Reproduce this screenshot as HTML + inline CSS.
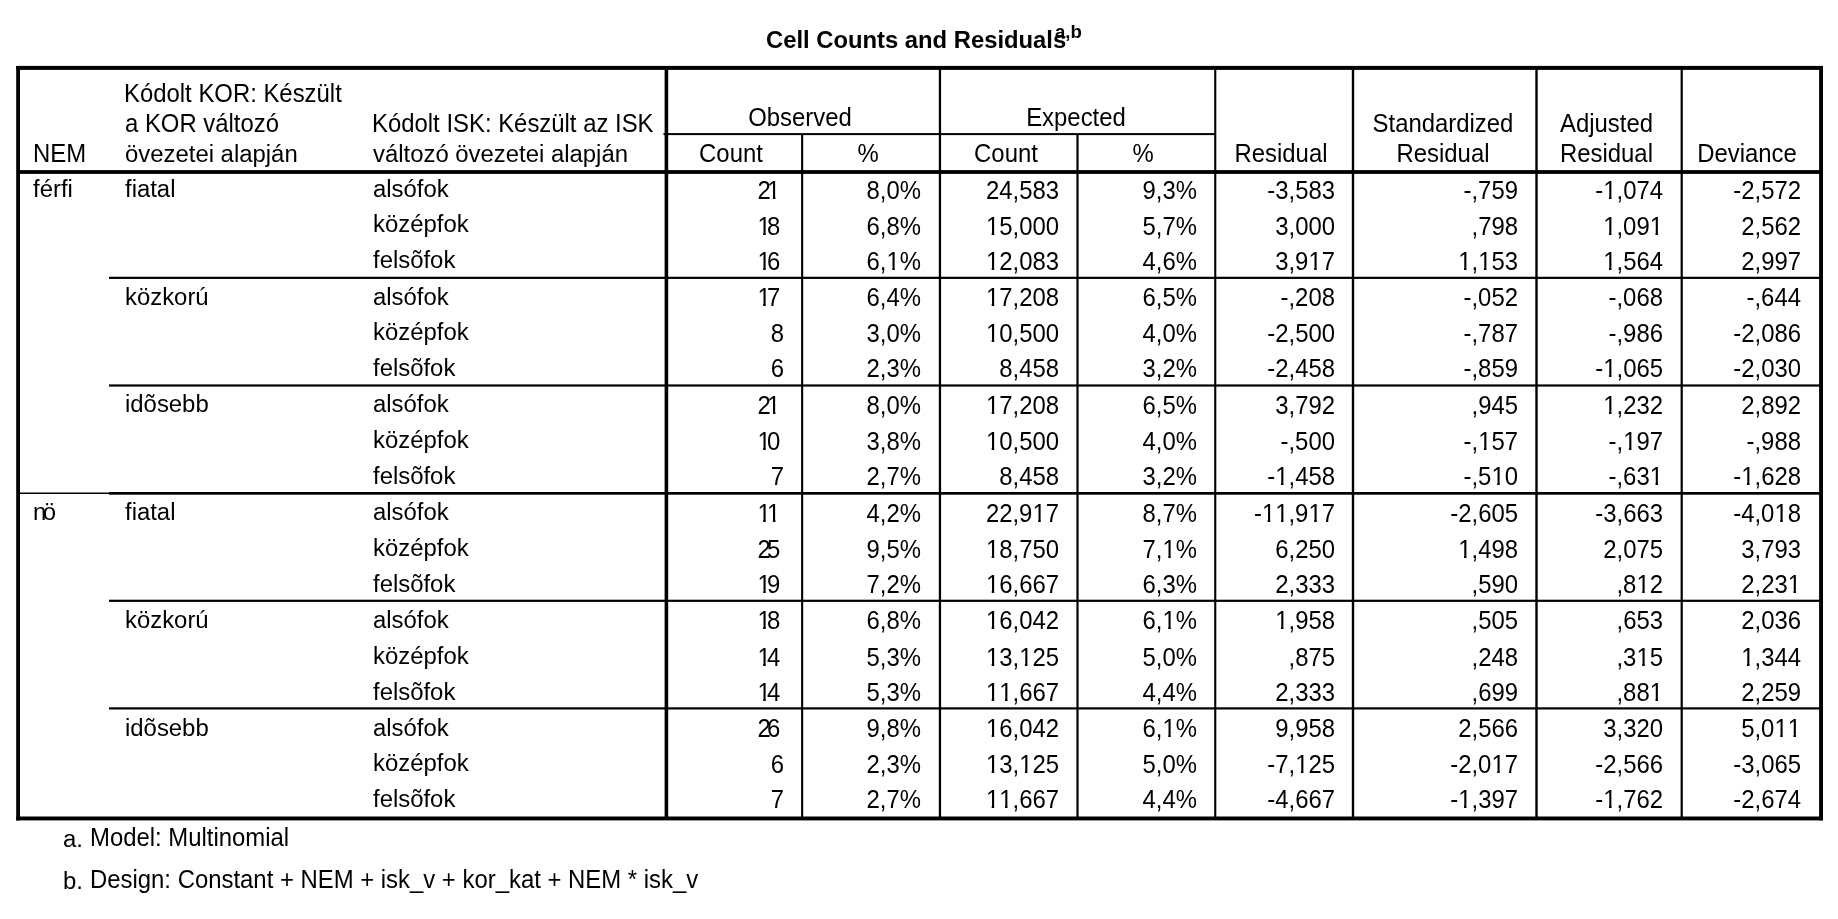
<!DOCTYPE html>
<html lang="hu"><head><meta charset="utf-8"><title>Cell Counts and Residuals</title>
<style>
html,body{margin:0;padding:0;background:#fff;}
body{width:1838px;height:919px;position:relative;overflow:hidden;font-family:"Liberation Sans",sans-serif;font-size:23.9px;color:#000;line-height:28.0px;}
.l{position:absolute;background:#000;}
.t,.r,.c{position:absolute;white-space:nowrap;transform:scaleY(1.005);will-change:transform;}
.r,.u{transform:scaleY(1.065);}
.m{transform:scaleY(1.055);}
.t{transform-origin:0 0;}
.r{text-align:right;width:200px;transform-origin:100% 0;}
.c{text-align:center;width:300px;transform-origin:50% 0;}
.q{margin-left:-3.6px;margin-right:3.6px;}
.o{display:inline-block;clip-path:polygon(0 0,100% 0,100% 19.5px,0.348em 19.5px,0.348em 100%,0.243em 100%,0.243em 19.5px,0 19.5px);}
#title{font-weight:bold;font-size:23.8px;}
#sup{font-weight:bold;font-size:18.6px;transform:scaleY(1.03);}
</style></head><body>

<svg width="1838" height="919" viewBox="0 0 1838 919" style="position:absolute;left:0;top:0" fill="#000">
<rect x="16.20" y="66.00" width="3.80" height="754.40"/>
<rect x="1819.10" y="66.00" width="3.90" height="754.40"/>
<rect x="664.60" y="68.00" width="3.60" height="750.00"/>
<rect x="801.10" y="134.00" width="2.10" height="684.00"/>
<rect x="938.80" y="68.00" width="2.30" height="750.00"/>
<rect x="1076.40" y="134.00" width="2.20" height="684.00"/>
<rect x="1214.20" y="68.00" width="2.10" height="750.00"/>
<rect x="1351.80" y="68.00" width="2.40" height="750.00"/>
<rect x="1535.30" y="68.00" width="2.40" height="750.00"/>
<rect x="1680.60" y="68.00" width="2.20" height="750.00"/>
<rect x="16.20" y="65.90" width="1806.80" height="4.00"/>
<rect x="16.20" y="816.50" width="1806.80" height="3.90"/>
<rect x="18.00" y="170.10" width="1803.00" height="3.80"/>
<rect x="663.50" y="133.10" width="552.50" height="2.00"/>
<rect x="109.00" y="276.75" width="1712.00" height="2.20"/>
<rect x="109.00" y="384.40" width="1712.00" height="2.20"/>
<rect x="18.00" y="492.50" width="92.00" height="1.50"/>
<rect x="109.00" y="492.00" width="1712.00" height="2.70"/>
<rect x="109.00" y="599.70" width="1712.00" height="2.20"/>
<rect x="109.00" y="707.30" width="1712.00" height="2.20"/>
</svg>
<div class="t" id="title" style="left:766px;top:25.84px;">Cell Counts and Residuals</div>
<div class="t" id="sup" style="left:1055.1px;top:17px;">a,b</div>
<div class="t u" style="left:33.0px;top:139px;">NEM</div>
<div class="t m" style="left:124.3px;top:79px;">Kódolt KOR: Készült</div>
<div class="t m" style="left:125.0px;top:109px;">a KOR változó</div>
<div class="t" style="left:125.0px;top:140px;">övezetei alapján</div>
<div class="t m" style="left:372.2px;top:109px;">Kódolt ISK: Készült az ISK</div>
<div class="t" style="left:372.6px;top:140px;">változó övezetei alapján</div>
<div class="c m" style="left:650.0px;top:103px;">Observed</div>
<div class="c m" style="left:925.5px;top:103px;">Expected</div>
<div class="c m" style="left:581.0px;top:139px;">Count</div>
<div class="c u" style="left:718.0px;top:139px;">%</div>
<div class="c m" style="left:856.0px;top:139px;">Count</div>
<div class="c u" style="left:993.0px;top:139px;">%</div>
<div class="c m" style="left:1131.0px;top:139px;">Residual</div>
<div class="c m" style="left:1293.0px;top:109px;">Standardized</div>
<div class="c m" style="left:1293.0px;top:139px;">Residual</div>
<div class="t m" style="left:1560.0px;top:109px;">Adjusted</div>
<div class="t m" style="left:1560.0px;top:139px;">Residual</div>
<div class="c m" style="left:1597.0px;top:139px;">Deviance</div>
<div class="t" style="left:32.8px;top:175px;">férfi</div>
<div class="t" style="left:125.2px;top:175px;">fiatal</div>
<div class="t" style="left:372.5px;top:175px;">alsófok</div>
<div class="r" style="left:584.1px;top:176px;">2<span class="q o">1</span></div>
<div class="r" style="left:721.0px;top:176px;">8,0%</div>
<div class="r" style="left:859.2px;top:176px;">24,583</div>
<div class="r" style="left:997.0px;top:176px;">9,3%</div>
<div class="r" style="left:1134.5px;top:176px;">-3,583</div>
<div class="r" style="left:1318.0px;top:176px;">-,759</div>
<div class="r" style="left:1463.0px;top:176px;">-<span class="o">1</span>,074</div>
<div class="r" style="left:1601.0px;top:176px;">-2,572</div>
<div class="t" style="left:372.5px;top:210px;">középfok</div>
<div class="r" style="left:584.1px;top:212px;"><span class="o">1</span><span class="q">8</span></div>
<div class="r" style="left:721.0px;top:212px;">6,8%</div>
<div class="r" style="left:859.2px;top:212px;"><span class="o">1</span>5,000</div>
<div class="r" style="left:997.0px;top:212px;">5,7%</div>
<div class="r" style="left:1134.5px;top:212px;">3,000</div>
<div class="r" style="left:1318.0px;top:212px;">,798</div>
<div class="r" style="left:1463.0px;top:212px;"><span class="o">1</span>,09<span class="o">1</span></div>
<div class="r" style="left:1601.0px;top:212px;">2,562</div>
<div class="t" style="left:372.5px;top:246px;">felsõfok</div>
<div class="r" style="left:584.1px;top:247px;"><span class="o">1</span><span class="q">6</span></div>
<div class="r" style="left:721.0px;top:247px;">6,<span class="o">1</span>%</div>
<div class="r" style="left:859.2px;top:247px;"><span class="o">1</span>2,083</div>
<div class="r" style="left:997.0px;top:247px;">4,6%</div>
<div class="r" style="left:1134.5px;top:247px;">3,9<span class="o">1</span>7</div>
<div class="r" style="left:1318.0px;top:247px;"><span class="o">1</span>,<span class="o">1</span>53</div>
<div class="r" style="left:1463.0px;top:247px;"><span class="o">1</span>,564</div>
<div class="r" style="left:1601.0px;top:247px;">2,997</div>
<div class="t" style="left:125.2px;top:283px;">közkorú</div>
<div class="t" style="left:372.5px;top:283px;">alsófok</div>
<div class="r" style="left:584.1px;top:283px;"><span class="o">1</span><span class="q">7</span></div>
<div class="r" style="left:721.0px;top:283px;">6,4%</div>
<div class="r" style="left:859.2px;top:283px;"><span class="o">1</span>7,208</div>
<div class="r" style="left:997.0px;top:283px;">6,5%</div>
<div class="r" style="left:1134.5px;top:283px;">-,208</div>
<div class="r" style="left:1318.0px;top:283px;">-,052</div>
<div class="r" style="left:1463.0px;top:283px;">-,068</div>
<div class="r" style="left:1601.0px;top:283px;">-,644</div>
<div class="t" style="left:372.5px;top:318px;">középfok</div>
<div class="r" style="left:584.1px;top:319px;">8</div>
<div class="r" style="left:721.0px;top:319px;">3,0%</div>
<div class="r" style="left:859.2px;top:319px;"><span class="o">1</span>0,500</div>
<div class="r" style="left:997.0px;top:319px;">4,0%</div>
<div class="r" style="left:1134.5px;top:319px;">-2,500</div>
<div class="r" style="left:1318.0px;top:319px;">-,787</div>
<div class="r" style="left:1463.0px;top:319px;">-,986</div>
<div class="r" style="left:1601.0px;top:319px;">-2,086</div>
<div class="t" style="left:372.5px;top:354px;">felsõfok</div>
<div class="r" style="left:584.1px;top:354px;">6</div>
<div class="r" style="left:721.0px;top:354px;">2,3%</div>
<div class="r" style="left:859.2px;top:354px;">8,458</div>
<div class="r" style="left:997.0px;top:354px;">3,2%</div>
<div class="r" style="left:1134.5px;top:354px;">-2,458</div>
<div class="r" style="left:1318.0px;top:354px;">-,859</div>
<div class="r" style="left:1463.0px;top:354px;">-<span class="o">1</span>,065</div>
<div class="r" style="left:1601.0px;top:354px;">-2,030</div>
<div class="t" style="left:125.2px;top:390px;">idõsebb</div>
<div class="t" style="left:372.5px;top:390px;">alsófok</div>
<div class="r" style="left:584.1px;top:391px;">2<span class="q o">1</span></div>
<div class="r" style="left:721.0px;top:391px;">8,0%</div>
<div class="r" style="left:859.2px;top:391px;"><span class="o">1</span>7,208</div>
<div class="r" style="left:997.0px;top:391px;">6,5%</div>
<div class="r" style="left:1134.5px;top:391px;">3,792</div>
<div class="r" style="left:1318.0px;top:391px;">,945</div>
<div class="r" style="left:1463.0px;top:391px;"><span class="o">1</span>,232</div>
<div class="r" style="left:1601.0px;top:391px;">2,892</div>
<div class="t" style="left:372.5px;top:426px;">középfok</div>
<div class="r" style="left:584.1px;top:427px;"><span class="o">1</span><span class="q">0</span></div>
<div class="r" style="left:721.0px;top:427px;">3,8%</div>
<div class="r" style="left:859.2px;top:427px;"><span class="o">1</span>0,500</div>
<div class="r" style="left:997.0px;top:427px;">4,0%</div>
<div class="r" style="left:1134.5px;top:427px;">-,500</div>
<div class="r" style="left:1318.0px;top:427px;">-,<span class="o">1</span>57</div>
<div class="r" style="left:1463.0px;top:427px;">-,<span class="o">1</span>97</div>
<div class="r" style="left:1601.0px;top:427px;">-,988</div>
<div class="t" style="left:372.5px;top:462px;">felsõfok</div>
<div class="r" style="left:584.1px;top:462px;">7</div>
<div class="r" style="left:721.0px;top:462px;">2,7%</div>
<div class="r" style="left:859.2px;top:462px;">8,458</div>
<div class="r" style="left:997.0px;top:462px;">3,2%</div>
<div class="r" style="left:1134.5px;top:462px;">-<span class="o">1</span>,458</div>
<div class="r" style="left:1318.0px;top:462px;">-,5<span class="o">1</span>0</div>
<div class="r" style="left:1463.0px;top:462px;">-,63<span class="o">1</span></div>
<div class="r" style="left:1601.0px;top:462px;">-<span class="o">1</span>,628</div>
<div class="t" style="left:32.8px;top:498px;">n<span class="q">ö</span></div>
<div class="t" style="left:125.2px;top:498px;">fiatal</div>
<div class="t" style="left:372.5px;top:498px;">alsófok</div>
<div class="r" style="left:584.1px;top:499px;"><span class="o">1</span><span class="q o">1</span></div>
<div class="r" style="left:721.0px;top:499px;">4,2%</div>
<div class="r" style="left:859.2px;top:499px;">22,9<span class="o">1</span>7</div>
<div class="r" style="left:997.0px;top:499px;">8,7%</div>
<div class="r" style="left:1134.5px;top:499px;">-<span class="o">1</span><span class="o">1</span>,9<span class="o">1</span>7</div>
<div class="r" style="left:1318.0px;top:499px;">-2,605</div>
<div class="r" style="left:1463.0px;top:499px;">-3,663</div>
<div class="r" style="left:1601.0px;top:499px;">-4,0<span class="o">1</span>8</div>
<div class="t" style="left:372.5px;top:534px;">középfok</div>
<div class="r" style="left:584.1px;top:535px;">2<span class="q">5</span></div>
<div class="r" style="left:721.0px;top:535px;">9,5%</div>
<div class="r" style="left:859.2px;top:535px;"><span class="o">1</span>8,750</div>
<div class="r" style="left:997.0px;top:535px;">7,<span class="o">1</span>%</div>
<div class="r" style="left:1134.5px;top:535px;">6,250</div>
<div class="r" style="left:1318.0px;top:535px;"><span class="o">1</span>,498</div>
<div class="r" style="left:1463.0px;top:535px;">2,075</div>
<div class="r" style="left:1601.0px;top:535px;">3,793</div>
<div class="t" style="left:372.5px;top:570px;">felsõfok</div>
<div class="r" style="left:584.1px;top:570px;"><span class="o">1</span><span class="q">9</span></div>
<div class="r" style="left:721.0px;top:570px;">7,2%</div>
<div class="r" style="left:859.2px;top:570px;"><span class="o">1</span>6,667</div>
<div class="r" style="left:997.0px;top:570px;">6,3%</div>
<div class="r" style="left:1134.5px;top:570px;">2,333</div>
<div class="r" style="left:1318.0px;top:570px;">,590</div>
<div class="r" style="left:1463.0px;top:570px;">,8<span class="o">1</span>2</div>
<div class="r" style="left:1601.0px;top:570px;">2,23<span class="o">1</span></div>
<div class="t" style="left:125.2px;top:606px;">közkorú</div>
<div class="t" style="left:372.5px;top:606px;">alsófok</div>
<div class="r" style="left:584.1px;top:606px;"><span class="o">1</span><span class="q">8</span></div>
<div class="r" style="left:721.0px;top:606px;">6,8%</div>
<div class="r" style="left:859.2px;top:606px;"><span class="o">1</span>6,042</div>
<div class="r" style="left:997.0px;top:606px;">6,<span class="o">1</span>%</div>
<div class="r" style="left:1134.5px;top:606px;"><span class="o">1</span>,958</div>
<div class="r" style="left:1318.0px;top:606px;">,505</div>
<div class="r" style="left:1463.0px;top:606px;">,653</div>
<div class="r" style="left:1601.0px;top:606px;">2,036</div>
<div class="t" style="left:372.5px;top:642px;">középfok</div>
<div class="r" style="left:584.1px;top:643px;"><span class="o">1</span><span class="q">4</span></div>
<div class="r" style="left:721.0px;top:643px;">5,3%</div>
<div class="r" style="left:859.2px;top:643px;"><span class="o">1</span>3,<span class="o">1</span>25</div>
<div class="r" style="left:997.0px;top:643px;">5,0%</div>
<div class="r" style="left:1134.5px;top:643px;">,875</div>
<div class="r" style="left:1318.0px;top:643px;">,248</div>
<div class="r" style="left:1463.0px;top:643px;">,3<span class="o">1</span>5</div>
<div class="r" style="left:1601.0px;top:643px;"><span class="o">1</span>,344</div>
<div class="t" style="left:372.5px;top:678px;">felsõfok</div>
<div class="r" style="left:584.1px;top:678px;"><span class="o">1</span><span class="q">4</span></div>
<div class="r" style="left:721.0px;top:678px;">5,3%</div>
<div class="r" style="left:859.2px;top:678px;"><span class="o">1</span><span class="o">1</span>,667</div>
<div class="r" style="left:997.0px;top:678px;">4,4%</div>
<div class="r" style="left:1134.5px;top:678px;">2,333</div>
<div class="r" style="left:1318.0px;top:678px;">,699</div>
<div class="r" style="left:1463.0px;top:678px;">,88<span class="o">1</span></div>
<div class="r" style="left:1601.0px;top:678px;">2,259</div>
<div class="t" style="left:125.2px;top:714px;">idõsebb</div>
<div class="t" style="left:372.5px;top:714px;">alsófok</div>
<div class="r" style="left:584.1px;top:714px;">2<span class="q">6</span></div>
<div class="r" style="left:721.0px;top:714px;">9,8%</div>
<div class="r" style="left:859.2px;top:714px;"><span class="o">1</span>6,042</div>
<div class="r" style="left:997.0px;top:714px;">6,<span class="o">1</span>%</div>
<div class="r" style="left:1134.5px;top:714px;">9,958</div>
<div class="r" style="left:1318.0px;top:714px;">2,566</div>
<div class="r" style="left:1463.0px;top:714px;">3,320</div>
<div class="r" style="left:1601.0px;top:714px;">5,0<span class="o">1</span><span class="o">1</span></div>
<div class="t" style="left:372.5px;top:749px;">középfok</div>
<div class="r" style="left:584.1px;top:750px;">6</div>
<div class="r" style="left:721.0px;top:750px;">2,3%</div>
<div class="r" style="left:859.2px;top:750px;"><span class="o">1</span>3,<span class="o">1</span>25</div>
<div class="r" style="left:997.0px;top:750px;">5,0%</div>
<div class="r" style="left:1134.5px;top:750px;">-7,<span class="o">1</span>25</div>
<div class="r" style="left:1318.0px;top:750px;">-2,0<span class="o">1</span>7</div>
<div class="r" style="left:1463.0px;top:750px;">-2,566</div>
<div class="r" style="left:1601.0px;top:750px;">-3,065</div>
<div class="t" style="left:372.5px;top:785px;">felsõfok</div>
<div class="r" style="left:584.1px;top:785px;">7</div>
<div class="r" style="left:721.0px;top:785px;">2,7%</div>
<div class="r" style="left:859.2px;top:785px;"><span class="o">1</span><span class="o">1</span>,667</div>
<div class="r" style="left:997.0px;top:785px;">4,4%</div>
<div class="r" style="left:1134.5px;top:785px;">-4,667</div>
<div class="r" style="left:1318.0px;top:785px;">-<span class="o">1</span>,397</div>
<div class="r" style="left:1463.0px;top:785px;">-<span class="o">1</span>,762</div>
<div class="r" style="left:1601.0px;top:785px;">-2,674</div>
<div class="t" style="left:62.7px;top:825px;">a.</div>
<div class="t m" style="left:90.0px;top:823px;">Model: Multinomial</div>
<div class="t" style="left:62.7px;top:867px;">b.</div>
<div class="t m" style="left:90.0px;top:865px;">Design: Constant + NEM + isk_v + kor_kat + NEM * isk_v</div>
</body></html>
